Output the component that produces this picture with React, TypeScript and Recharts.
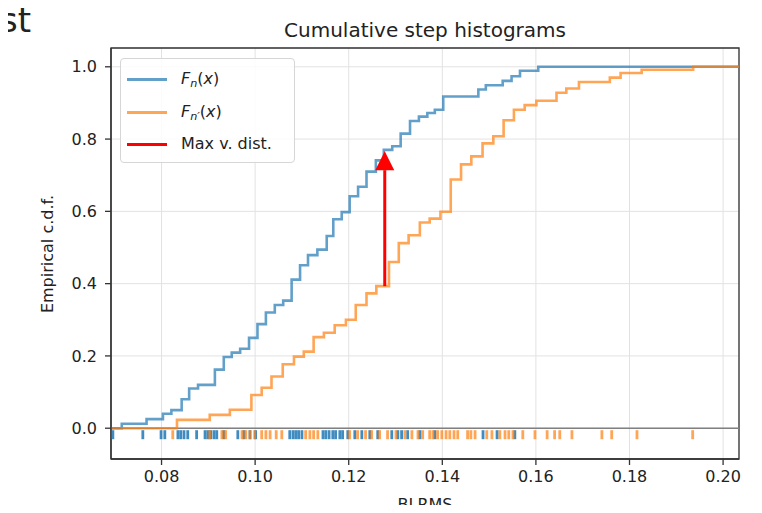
import React from "react";
import {
  ComposedChart,
  Line,
  Scatter,
  XAxis,
  YAxis,
  CartesianGrid,
  ReferenceLine,
  ReferenceArea,
} from "recharts";

// ---- axis ranges & ticks ----
const xDomain = [0.0692, 0.2034];
const yDomain = [-0.0852, 1.052];
const xTicks = [0.08, 0.1, 0.12, 0.14, 0.16, 0.18, 0.2];
const yTicks = [0, 0.2, 0.4, 0.6, 0.8, 1.0];

// ---- F_n(x) step curve (blue) ----
const blueStepX = [
  0.0692, 0.0715, 0.0768, 0.0803, 0.0821, 0.0843, 0.0859, 0.0878, 0.0914, 0.0933,
  0.095, 0.0968, 0.0987, 0.1005, 0.1023, 0.1042, 0.106, 0.1078, 0.1096, 0.1113,
  0.1133, 0.1153, 0.1167, 0.1185, 0.1202, 0.122, 0.1238, 0.1258, 0.1275, 0.1293,
  0.1311, 0.1331, 0.135, 0.1368, 0.1384, 0.1402, 0.1477, 0.1493, 0.1529, 0.1548,
  0.1566, 0.1605, 0.2034,
];
const blueStepY = [
  0, 0.0125, 0.025, 0.04, 0.05, 0.08, 0.11, 0.12, 0.162, 0.197,
  0.209, 0.22, 0.25, 0.288, 0.32, 0.341, 0.353, 0.411, 0.451, 0.479,
  0.494, 0.532, 0.578, 0.598, 0.642, 0.668, 0.71, 0.741, 0.77, 0.78,
  0.815, 0.85, 0.862, 0.872, 0.881, 0.918, 0.937, 0.949, 0.961, 0.974,
  0.989, 1.0, 1.0,
];

// ---- F_n'(x) step curve (orange) ----
const orangeStepX = [
  0.0692, 0.0833, 0.0903, 0.0946, 0.0992, 0.1014, 0.1035, 0.1059, 0.1083, 0.1104,
  0.1125, 0.1147, 0.117, 0.1194, 0.1215, 0.1238, 0.1259, 0.1286, 0.1307, 0.1328,
  0.1352, 0.1373, 0.1396, 0.1418, 0.144, 0.1462, 0.1486, 0.1509, 0.1531, 0.1553,
  0.1576, 0.1601, 0.1644, 0.1665, 0.1692, 0.1758, 0.1781, 0.1826, 0.1936, 0.2034,
];
const orangeStepY = [
  0, 0.023, 0.037, 0.051, 0.092, 0.112, 0.143, 0.177, 0.198, 0.212,
  0.252, 0.264, 0.285, 0.3, 0.341, 0.373, 0.393, 0.46, 0.512, 0.534,
  0.569, 0.58, 0.599, 0.688, 0.73, 0.752, 0.788, 0.808, 0.852, 0.881,
  0.894, 0.906, 0.928, 0.94, 0.958, 0.97, 0.983, 0.992, 1.0, 1.0,
];

// ---- rug samples ----
const blueRug = [
  0.0696, 0.076, 0.0799, 0.0807, 0.0835, 0.0841, 0.0848, 0.0856, 0.0875, 0.0893,
  0.0899, 0.0905, 0.0912, 0.0918, 0.0933, 0.0963, 0.0976, 0.0989, 0.1001, 0.1074,
  0.1081, 0.1087, 0.1093, 0.11, 0.1145, 0.1151, 0.1158, 0.1166, 0.1172, 0.1181,
  0.1187, 0.1198, 0.1213, 0.1228, 0.1245, 0.1262, 0.1292, 0.1305, 0.1313, 0.1326,
  0.1352, 0.1384, 0.1487, 0.1517, 0.1555,
];
const orangeRug = [
  0.0824, 0.0903, 0.0929, 0.0937, 0.0972, 0.098, 0.0989, 0.0999, 0.1014, 0.1023,
  0.1032, 0.1045, 0.1057, 0.1108, 0.1117, 0.1125, 0.1134, 0.1202, 0.1219, 0.1236,
  0.1249, 0.1266, 0.1283, 0.1301, 0.132, 0.1335, 0.1348, 0.1358, 0.1373, 0.138,
  0.139, 0.1399, 0.1408, 0.1416, 0.1425, 0.1433, 0.1454, 0.1461, 0.147, 0.1495,
  0.1506, 0.1523, 0.1534, 0.1542, 0.1551, 0.1572, 0.1598, 0.1624, 0.164, 0.1651,
  0.1677, 0.1741, 0.1762, 0.1816, 0.1935,
];

// ---- max vertical distance arrow ----
const arrowX = 0.1277;
const arrowFrom = 0.393;
const arrowHeadBase = 0.714;
const arrowTip = 0.766;

const blueData = blueStepX.map((x, i) => ({ x, y: blueStepY[i] }));
const orangeData = orangeStepX.map((x, i) => ({ x, y: orangeStepY[i] }));
const blueRugData = blueRug.map((x) => ({ x, y: 0 }));
const orangeRugData = orangeRug.map((x) => ({ x, y: 0 }));
const shaftData = [
  { x: arrowX, y: arrowFrom },
  { x: arrowX, y: arrowHeadBase },
];
const tipData = [{ x: arrowX, y: arrowTip }];

const FONT = "'DejaVu Sans', sans-serif";
const BLUE = "#1f77b4";
const ORANGE = "#ff7f0e";

const RugTick = (color: string, opacity: number) => (props: any) => {
  const { cx, cy } = props;
  if (cx == null || cy == null) return <g />;
  return (
    <line
      x1={cx}
      x2={cx}
      y1={cy + 2}
      y2={cy + 11}
      stroke={color}
      strokeOpacity={opacity}
      strokeWidth={2.8}
    />
  );
};

const ArrowHead = (props: any) => {
  const { cx, cy } = props;
  if (cx == null || cy == null) return <g />;
  return (
    <polygon
      points={`${cx},${cy} ${cx - 9.5},${cy + 19} ${cx + 9.5},${cy + 19}`}
      fill="#ff0000"
    />
  );
};

const FnLabel = ({ prime }: { prime?: boolean }) => (
  <span>
    <span style={{ fontStyle: "italic" }}>F</span>
    <span style={{ fontStyle: "italic", fontSize: "0.7em", position: "relative", top: "0.3em" }}>
      {prime ? "n\u2032" : "n"}
    </span>
    (<span style={{ fontStyle: "italic" }}>x</span>)
  </span>
);

const legendRows = [
  { color: BLUE, opacity: 0.7, label: <FnLabel />, y: 20 },
  { color: ORANGE, opacity: 0.7, label: <FnLabel prime />, y: 53 },
  { color: "#ff0000", opacity: 1, label: <span>Max v. dist.</span>, y: 85 },
];

export default function App() {
  return (
    <div
      style={{
        position: "relative",
        width: 762,
        height: 513,
        margin: -8,
        background: "#ffffff",
        fontFamily: FONT,
        overflow: "hidden",
      }}
    >
      <div
        style={{
          position: "absolute",
          left: 0,
          top: 3,
          fontSize: 34,
          lineHeight: "34px",
          color: "#222",
          fontFamily: FONT,
        }}
      >
        st
      </div>
      <div
        style={{
          position: "absolute",
          left: 111,
          width: 628,
          top: 19,
          textAlign: "center",
          fontSize: 20,
          lineHeight: "22px",
          color: "#222",
        }}
      >
        Cumulative step histograms
      </div>
      <ComposedChart
        width={762}
        height={513}
        margin={{ top: 48, right: 23, bottom: 0, left: 31 }}
        style={{ position: "absolute", left: 0, top: 0 }}
      >
        <CartesianGrid stroke="#e2e2e2" strokeWidth={1} />
        <XAxis
          type="number"
          dataKey="x"
          domain={xDomain}
          ticks={xTicks}
          allowDataOverflow
          height={54}
          tickSize={6}
          tickMargin={6}
          tickFormatter={(v: number) => v.toFixed(2)}
          tick={{ fill: "#222", fontSize: 16, fontFamily: FONT }}
          axisLine={{ stroke: "#333", strokeWidth: 1.3 }}
          tickLine={{ stroke: "#333", strokeWidth: 1.3 }}
        />
        <YAxis
          type="number"
          dataKey="y"
          domain={yDomain}
          ticks={yTicks}
          allowDataOverflow
          width={80}
          tickSize={6}
          tickMargin={8}
          tickFormatter={(v: number) => v.toFixed(1)}
          tick={{ fill: "#222", fontSize: 16, fontFamily: FONT }}
          axisLine={{ stroke: "#333", strokeWidth: 1.3 }}
          tickLine={{ stroke: "#333", strokeWidth: 1.3 }}
        />
        <ReferenceLine y={0} stroke="#808080" strokeWidth={1.5} />
        <Scatter
          data={blueRugData}
          shape={RugTick(BLUE, 0.85)}
          isAnimationActive={false}
        />
        <Scatter
          data={orangeRugData}
          shape={RugTick(ORANGE, 0.7)}
          isAnimationActive={false}
        />
        <Line
          data={blueData}
          dataKey="y"
          type="stepAfter"
          stroke={BLUE}
          strokeOpacity={0.7}
          strokeWidth={2.6}
          dot={false}
          isAnimationActive={false}
        />
        <Line
          data={orangeData}
          dataKey="y"
          type="stepAfter"
          stroke={ORANGE}
          strokeOpacity={0.7}
          strokeWidth={2.6}
          dot={false}
          isAnimationActive={false}
        />
        <Line
          data={shaftData}
          dataKey="y"
          type="linear"
          stroke="#ff0000"
          strokeWidth={3}
          dot={false}
          isAnimationActive={false}
        />
        <Scatter data={tipData} shape={ArrowHead} isAnimationActive={false} />
        <ReferenceArea
          x1={xDomain[0]}
          x2={xDomain[1]}
          y1={yDomain[0]}
          y2={yDomain[1]}
          fill="none"
          fillOpacity={0}
          stroke="#333"
          strokeWidth={1.3}
          ifOverflow="extendDomain"
        />
      </ComposedChart>
      <div
        style={{
          position: "absolute",
          left: 47,
          top: 253.5,
          transform: "translate(-50%, -50%) rotate(-90deg)",
          whiteSpace: "nowrap",
          fontSize: 16,
          color: "#222",
        }}
      >
        Empirical c.d.f.
      </div>
      <div
        style={{
          position: "absolute",
          left: 111,
          width: 628,
          top: 495,
          textAlign: "center",
          fontSize: 16,
          lineHeight: "20px",
          color: "#222",
        }}
      >
        BLRMS
      </div>
      <div
        style={{
          position: "absolute",
          left: 120,
          top: 58,
          width: 175,
          height: 105,
          boxSizing: "border-box",
          border: "1px solid #d6d6d6",
          borderRadius: 4,
          background: "rgba(255,255,255,0.85)",
          fontSize: 16,
          color: "#222",
        }}
      >
        {legendRows.map((r, i) => (
          <div key={i}>
            <div
              style={{
                position: "absolute",
                left: 6,
                top: r.y - 1.5,
                width: 40,
                height: 3,
                background: r.color,
                opacity: r.opacity,
              }}
            />
            <div
              style={{
                position: "absolute",
                left: 60,
                top: r.y - 11,
                lineHeight: "22px",
                whiteSpace: "nowrap",
              }}
            >
              {r.label}
            </div>
          </div>
        ))}
      </div>
    </div>
  );
}
